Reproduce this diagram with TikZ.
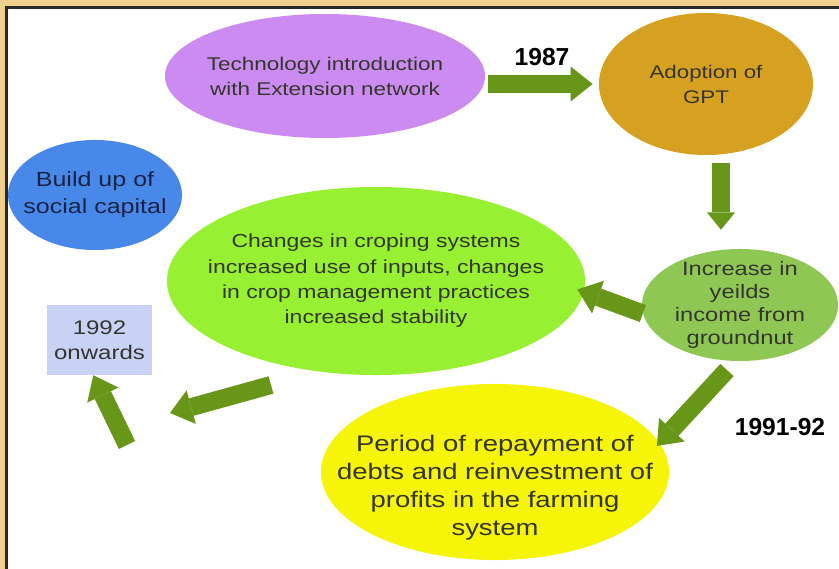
\documentclass[tikz,border=0pt]{standalone}
\usepackage{fontspec}
\setmainfont[FakeStretch=1.22]{Liberation Sans}
\newfontfamily\yearfont{Liberation Sans}
\usepackage{xcolor}
\usetikzlibrary{arrows.meta,shapes.geometric,positioning}

\begin{document}
\begin{tikzpicture}[x=0.025cm,y=-0.025cm]
    \definecolor{mytan}{RGB}{240,206,140}
    \definecolor{myframe}{RGB}{40,40,40}
    \definecolor{mypurple}{RGB}{203,139,240}
    \definecolor{mygold}{RGB}{214,160,32}
    \definecolor{mymidgreen}{RGB}{143,199,84}
    \definecolor{mylime}{RGB}{152,240,50}
    \definecolor{myyellow}{RGB}{246,244,8}
    \definecolor{myblue}{RGB}{72,136,232}
    \definecolor{mybox}{RGB}{200,210,245}
    \definecolor{myarrow}{RGB}{104,150,24}
    \definecolor{mytext}{RGB}{52,54,46}
    \definecolor{mynavy}{RGB}{25,35,70}

    \tikzstyle{bubble}=[ellipse,inner sep=-1.5cm,align=center,text=mytext]  % 椭圆块,大小由minimum决定
    \tikzstyle{bigarrow}=[draw=myarrow,line width=0.45cm,-{Triangle[length=0.55cm,width=0.87cm,line width=0pt]}]  % 粗箭头
    \tikzstyle{year}=[inner sep=0pt,text=black,font=\yearfont\bfseries\fontsize{17.5}{20}\selectfont]  % 年份标注

    % 背景和边框
    \fill[mytan] (0,0) rectangle (839,569);
    \fill[myframe] (5,6) rectangle (839,569);
    \fill[white] (8,9) rectangle (839,569);

    % 定义节点
    \node[bubble,fill=mypurple,minimum width=8cm,minimum height=3.1cm,font=\fontsize{13.1}{17.8}\selectfont](tech) at (325,76){Technology introduction\\with Extension network};
    \node[bubble,fill=mygold,minimum width=5.35cm,minimum height=3.55cm,font=\fontsize{13}{17.8}\selectfont](gpt) at (706,84){Adoption of\\GPT};
    \node[bubble,fill=mymidgreen,minimum width=4.9cm,minimum height=2.8cm,font=\fontsize{13.8}{16.2}\selectfont](yield) at (740,305){Increase in\\yeilds\\income from\\groundnut};
    \node[bubble,fill=mylime,minimum width=10.45cm,minimum height=4.7cm,font=\fontsize{13.4}{18}\selectfont](crop) at (376,281){Changes in croping systems\\increased use of inputs, changes\\in crop management practices\\increased stability};
    \node[bubble,fill=myyellow,minimum width=8.7cm,minimum height=4.4cm,font=\fontsize{16}{20}\selectfont](repay) at (495,472){\strut\\Period of repayment of\\debts and reinvestment of\\profits in the farming\\system};  % 空行让文字下移
    \node[bubble,fill=myblue,text=mynavy,minimum width=4.35cm,minimum height=2.75cm,font=\fontsize{14.6}{19.2}\selectfont](social) at (95,195){Build up of\\social capital};
    \node[rectangle,fill=mybox,text=mytext,align=center,inner sep=0pt,minimum width=2.625cm,minimum height=1.75cm,font=\fontsize{14}{17.8}\selectfont](onward) at (99.5,340){1992\\onwards};
    \node[year](y9192) at (780,427){1991-92};
    \coordinate (cropfoot) at (271,385);  % 无节点的箭头端点
    \coordinate (leftend) at (170,413);
    \coordinate (upfoot) at (127,445);

    % 开始画线
    \draw[bigarrow,shorten <=0.075cm,shorten >=0.15cm](tech.east |- gpt.west) -- node[year,above=0.225cm](y1987){1987} (gpt.west);
    \draw[bigarrow,-{Triangle[length=0.43cm,width=0.7cm,line width=0pt]},shorten <=0.2cm,shorten >=0.475cm](gpt.-78) -- (gpt.-78 |- yield.north);
    \draw[bigarrow,shorten >=-0.175cm](yield.185) -- (crop.-3);
    \draw[bigarrow,shorten <=0.3cm,shorten >=-0.1cm](yield.-95) -- (repay.10);
    \draw[bigarrow](cropfoot) -- (leftend);
    \draw[bigarrow](upfoot) -- (onward.-100);
\end{tikzpicture}
\end{document}
